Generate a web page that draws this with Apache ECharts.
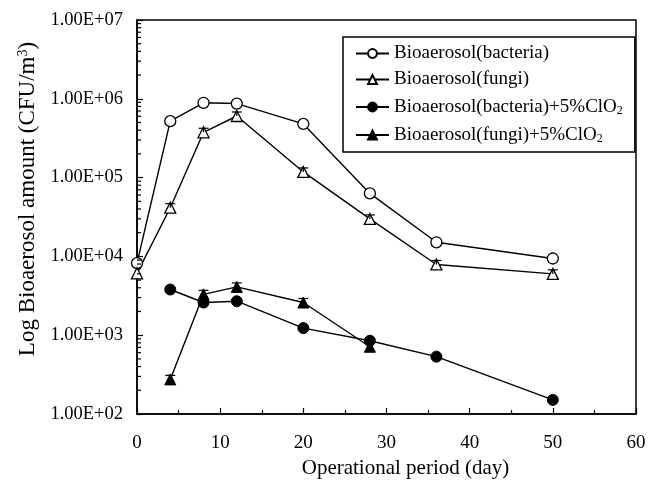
<!DOCTYPE html>
<html>
<head>
<meta charset="utf-8">
<script src="https://cdn.jsdelivr.net/npm/echarts@6/dist/echarts.min.js"></script>
<style>html,body{margin:0;padding:0;background:#fff}#c{width:656px;height:487px}</style>
</head>
<body>
<div id="c"></div>
<script>
// ---- data ----
const days = [0, 4, 8, 12, 20, 28, 36, 50];
const bacteria = [8200, 520000, 890000, 870000, 480000, 63000, 15100, 9400];
const fungi = [6100, 41500, 376000, 605000, 118000, 29900, 7900, 6000];
const daysClO2 = [4, 8, 12, 20, 28, 36, 50];
const bacteriaClO2 = [3800, 2600, 2700, 1230, 850, 534, 151];
const daysFungiClO2 = [4, 8, 12, 20, 28];
const fungiClO2 = [275, 3300, 4100, 2600, 714];
const seriesNames = ['Bioaerosol(bacteria)', 'Bioaerosol(fungi)', 'Bioaerosol(bacteria)+5%ClO2', 'Bioaerosol(fungi)+5%ClO2'];
const yMin = 100, yMax = 10000000;
const xMin = 0, xMax = 60, xStep = 10;

// minor tick values of the log axis (2..9 x 10^n)
const minorVals = [];
for (let d = yMin; d < yMax; d *= 10) for (let k = 2; k <= 9; k++) minorVals.push(k * d);

const font = 'Liberation Serif';
const pair = (xs, ys) => xs.map((x, i) => [x, ys[i]]);

function legendFmt(name) {
  if (name.endsWith('ClO2')) return '{t|' + name.slice(0, -1) + '}{s|2}';
  return '{t|' + name + '}';
}

const lineBase = {
  type: 'line', lineStyle: { color: '#000', width: 1.4 }, z: 3, symbolSize: 11
};

// small error-bar caps on the fungi markers
function capSeries(xs, ys) {
  return {
    type: 'custom', silent: true, z: 5, clip: false,
    data: pair(xs, ys),
    renderItem: (params, api) => {
      const p = api.coord([api.value(0), api.value(1)]);
      return { type: 'group', children: [
        { type: 'line', shape: { x1: p[0] - 5, y1: p[1] - 4, x2: p[0] + 5, y2: p[1] - 4 }, style: { stroke: '#000', lineWidth: 1.2 } },
        { type: 'line', shape: { x1: p[0], y1: p[1] - 4, x2: p[0], y2: p[1] }, style: { stroke: '#000', lineWidth: 1.2 } }
      ] };
    }
  };
}

const chart = echarts.init(document.getElementById('c'), null, { renderer: 'canvas' });
chart.setOption({
  animation: false,
  backgroundColor: '#fff',
  grid: { left: 137, top: 20, right: 20, bottom: 73, show: true, borderColor: '#000', borderWidth: 1.5, backgroundColor: 'transparent' },
  xAxis: {
    type: 'value', min: xMin, max: xMax, interval: xStep,
    name: 'Operational period (day)', nameLocation: 'middle', nameGap: 43,
    nameTextStyle: { fontFamily: font, fontSize: 21, color: '#000', padding: [0, 0, 0, 38] },
    axisLine: { lineStyle: { color: '#000', width: 1.5 } },
    axisTick: { inside: true, length: 6, lineStyle: { color: '#000', width: 1.2 } },
    minorTick: { show: true, splitNumber: 2, length: 4, lineStyle: { color: '#000', width: 1.2 } },
    axisLabel: { fontFamily: font, fontSize: 19, color: '#000', margin: 20 },
    splitLine: { show: false }
  },
  yAxis: {
    type: 'log', logBase: 10, min: yMin, max: yMax,
    name: 'Log Bioaerosol amount (CFU/m{sup|3})', nameLocation: 'middle', nameGap: 96, nameRotate: 90,
    nameTextStyle: { fontFamily: font, fontSize: 23, color: '#000', padding: [0, 0, 0, 36],
      rich: { sup: { fontFamily: font, fontSize: 14, color: '#000', verticalAlign: 'top', padding: [0, 0, 9, 0] } } },
    axisLine: { lineStyle: { color: '#000', width: 1.5 } },
    axisTick: { inside: true, length: 6, lineStyle: { color: '#000', width: 1.2 } },
    axisLabel: { fontFamily: font, fontSize: 18.5, color: '#000', margin: 14,
      formatter: v => '1.00E+' + String(Math.round(Math.log10(v))).padStart(2, '0') },
    splitLine: { show: false }
  },
  legend: {
    orient: 'vertical', left: 343, top: 37, data: seriesNames,
    backgroundColor: '#fff', borderColor: '#000', borderWidth: 1.5, padding: [7, 12, 7, 12],
    itemWidth: 33, itemHeight: 11, itemGap: 7,
    formatter: legendFmt,
    textStyle: { fontFamily: font, fontSize: 19, color: '#000',
      rich: { t: { fontFamily: font, fontSize: 19, color: '#000', lineHeight: 20 },
              s: { fontFamily: font, fontSize: 12, color: '#000', verticalAlign: 'bottom', padding: [9, 0, 0, 0], lineHeight: 20 } } }
  },
  series: [
    Object.assign({}, lineBase, { name: seriesNames[0], data: pair(days, bacteria), symbol: 'circle', itemStyle: { color: '#fff', borderColor: '#000', borderWidth: 1.3 } }),
    Object.assign({}, lineBase, { name: seriesNames[1], data: pair(days, fungi), symbol: 'triangle', itemStyle: { color: '#fff', borderColor: '#000', borderWidth: 1.3 } }),
    Object.assign({}, lineBase, { name: seriesNames[2], data: pair(daysClO2, bacteriaClO2), symbol: 'circle', itemStyle: { color: '#000', borderColor: '#000', borderWidth: 1 } }),
    Object.assign({}, lineBase, { name: seriesNames[3], data: pair(daysFungiClO2, fungiClO2), symbol: 'triangle', itemStyle: { color: '#000', borderColor: '#000', borderWidth: 1 } }),
    capSeries(days.slice(1), fungi.slice(1)),
    capSeries(daysFungiClO2, fungiClO2),
    {
      type: 'custom', silent: true, z: 4, clip: false,
      data: minorVals.map(v => [xMin, v]),
      renderItem: (params, api) => {
        const p = api.coord([api.value(0), api.value(1)]);
        return { type: 'line', shape: { x1: p[0], y1: p[1], x2: p[0] + 4, y2: p[1] }, style: { stroke: '#000', lineWidth: 1.2 } };
      }
    }
  ]
});
</script>
</body>
</html>
